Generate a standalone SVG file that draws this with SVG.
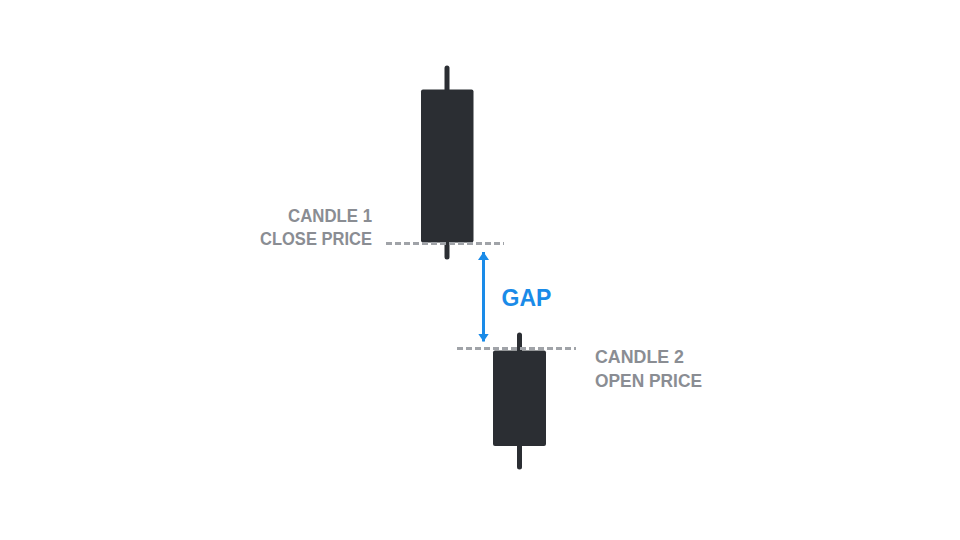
<svg xmlns="http://www.w3.org/2000/svg" width="960" height="540" viewBox="0 0 960 540">
  <style>
    .body { fill: #2b2e33; }
    .wick { stroke: #2b2e33; stroke-width: 5; stroke-linecap: round; }
    .dash { stroke: #a0a3a8; stroke-width: 3; stroke-dasharray: 6 3; fill: none; }
    .lbl { font-family: "Liberation Sans", Arial, sans-serif; font-weight: bold; font-size: 18.5px; fill: #8a8d93; }
    .gap { font-family: "Liberation Sans", Arial, sans-serif; font-weight: bold; font-size: 23px; fill: #1a8be8; }
  </style>
  <defs>
    <marker id="ah" viewBox="0 0 8 11" refX="8" refY="5.5" markerUnits="userSpaceOnUse" markerWidth="8" markerHeight="11" orient="auto-start-reverse">
      <path d="M0,0 L8,5.5 L0,11 Z" fill="#1a8be8"/>
    </marker>
  </defs>
  <rect width="960" height="540" fill="#ffffff"/>
  <g id="candle1">
    <line class="wick" x1="447" y1="68" x2="447" y2="257"/>
    <rect class="body" x="421" y="89.5" width="52.5" height="153" rx="2"/>
  </g>
  <g id="candle2">
    <line class="wick" x1="519.5" y1="335" x2="519.5" y2="467"/>
    <rect class="body" x="493" y="350.5" width="53" height="95.5" rx="2"/>
  </g>
  <g id="connectors">
    <line class="dash" x1="386" y1="243.5" x2="504" y2="243.5"/>
    <line class="dash" x1="457" y1="348.5" x2="576" y2="348.5"/>
    <line x1="483.5" y1="252" x2="483.5" y2="341.5" stroke="#1a8be8" stroke-width="3" marker-start="url(#ah)" marker-end="url(#ah)"/>
  </g>
  <g id="label1">
    <text class="lbl" x="372" y="221.5" text-anchor="end" textLength="84" lengthAdjust="spacingAndGlyphs">CANDLE 1</text>
    <text class="lbl" x="372" y="245" text-anchor="end" textLength="112" lengthAdjust="spacingAndGlyphs">CLOSE PRICE</text>
  </g>
  <g id="label2">
    <text class="lbl" x="595" y="362.5" textLength="89" lengthAdjust="spacingAndGlyphs">CANDLE 2</text>
    <text class="lbl" x="595" y="386.5" textLength="107" lengthAdjust="spacingAndGlyphs">OPEN PRICE</text>
  </g>
  <g id="gap">
    <text class="gap" x="501.5" y="305.7">GAP</text>
  </g>
</svg>
